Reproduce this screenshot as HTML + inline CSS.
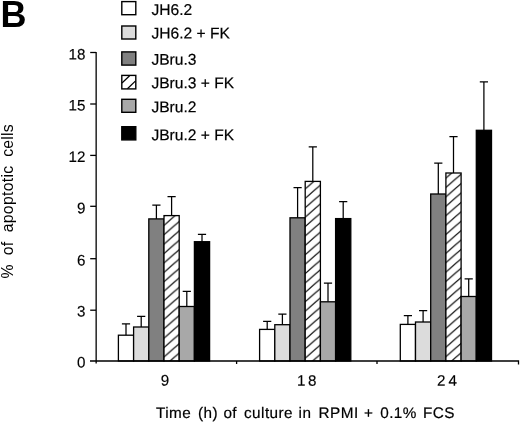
<!DOCTYPE html>
<html><head><meta charset="utf-8"><title>B</title>
<style>
html,body{margin:0;padding:0;background:#fff;}
body{width:520px;height:422px;overflow:hidden;}
svg{display:block;font-family:"Liberation Sans",Arial,Helvetica,sans-serif;fill:#000;}
</style></head><body>
<svg width="520" height="422" viewBox="0 0 520 422">
<defs>
<pattern id="hatch" patternUnits="userSpaceOnUse" width="10.805" height="9.4" patternTransform="translate(2.62,8.50)">
<rect width="10.805" height="9.4" fill="#fff"/>
<path d="M-10.805,18.8 L10.805,0 M0,18.8 L21.61,0 M-10.805,9.4 L10.805,-9.4" stroke="#000" stroke-width="1.2" fill="none"/>
</pattern>
<pattern id="hatch2" patternUnits="userSpaceOnUse" width="10.805" height="9.4" patternTransform="translate(3.36,0.30)">
<rect width="10.805" height="9.4" fill="#fff"/>
<path d="M-10.805,18.8 L10.805,0 M0,18.8 L21.61,0 M-10.805,9.4 L10.805,-9.4" stroke="#000" stroke-width="1.2" fill="none"/>
</pattern>
<pattern id="hatch3" patternUnits="userSpaceOnUse" width="10.805" height="9.4" patternTransform="translate(3.39,8.40)">
<rect width="10.805" height="9.4" fill="#fff"/>
<path d="M-10.805,18.8 L10.805,0 M0,18.8 L21.61,0 M-10.805,9.4 L10.805,-9.4" stroke="#000" stroke-width="1.2" fill="none"/>
</pattern>
</defs>
<rect width="520" height="422" fill="#fff"/>

<text x="0.4" y="27.4" font-size="36" font-weight="bold">B</text>
<rect x="121.8" y="1.6" width="14.0" height="13.1" fill="#ffffff" stroke="#000" stroke-width="1.4"/>
<text transform="translate(151.4,15.0) rotate(0.05) scale(1.0,1)" font-size="15.6" stroke="#000" stroke-width="0.2">JH6.2</text>
<rect x="121.8" y="26.0" width="14.0" height="13.0" fill="#dcdcdc" stroke="#000" stroke-width="1.4"/>
<text transform="translate(151.4,38.5) rotate(0.05) scale(1.0,1)" font-size="15.6" stroke="#000" stroke-width="0.2">JH6.2 + FK</text>
<rect x="121.8" y="51.9" width="14.0" height="13.2" fill="#808080" stroke="#000" stroke-width="1.4"/>
<text transform="translate(151.4,64.8) rotate(0.05) scale(1.0,1)" font-size="15.6" stroke="#000" stroke-width="0.2">JBru.3</text>
<rect x="121.8" y="75.4" width="14.0" height="13.5" fill="#fff"/>
<path d="M122.0,83.0 L129.6,75.8 M127.4,88.7 L135.6,80.9" stroke="#000" stroke-width="1.25" fill="none"/>
<rect x="121.8" y="75.4" width="14.0" height="13.5" fill="none" stroke="#000" stroke-width="1.4"/>
<text transform="translate(151.4,88.3) rotate(0.05) scale(1.0,1)" font-size="15.6" stroke="#000" stroke-width="0.2">JBru.3 + FK</text>
<rect x="121.8" y="99.3" width="14.0" height="13.0" fill="#a8a8a8" stroke="#000" stroke-width="1.4"/>
<text transform="translate(151.4,112.3) rotate(0.05) scale(1.0,1)" font-size="15.6" stroke="#000" stroke-width="0.2">JBru.2</text>
<rect x="121.8" y="126.7" width="14.0" height="13.2" fill="#000000" stroke="#000" stroke-width="1.4"/>
<text transform="translate(151.4,140.2) rotate(0.05) scale(1.0,1)" font-size="15.6" stroke="#000" stroke-width="0.2">JBru.2 + FK</text>
<path d="M126.0,335.2 V323.9 M121.9,323.9 H130.1" stroke="#000" stroke-width="1.25" fill="none"/>
<path d="M141.2,327.0 V316.4 M137.1,316.4 H145.3" stroke="#000" stroke-width="1.25" fill="none"/>
<path d="M156.4,218.9 V205.0 M152.3,205.0 H160.5" stroke="#000" stroke-width="1.25" fill="none"/>
<path d="M171.6,215.6 V196.5 M167.5,196.5 H175.7" stroke="#000" stroke-width="1.25" fill="none"/>
<path d="M186.8,306.5 V291.3 M182.7,291.3 H190.9" stroke="#000" stroke-width="1.25" fill="none"/>
<path d="M202.0,241.7 V234.4 M197.9,234.4 H206.1" stroke="#000" stroke-width="1.25" fill="none"/>
<rect x="118.4" y="335.2" width="15.2" height="25.8" fill="#ffffff" stroke="#000" stroke-width="1.3"/>
<rect x="133.6" y="327.0" width="15.2" height="34.0" fill="#dcdcdc" stroke="#000" stroke-width="1.3"/>
<rect x="148.8" y="218.9" width="15.2" height="142.1" fill="#808080" stroke="#000" stroke-width="1.3"/>
<rect x="164.0" y="215.6" width="15.2" height="145.4" fill="url(#hatch)" stroke="#000" stroke-width="1.3"/>
<rect x="179.2" y="306.5" width="15.2" height="54.5" fill="#a8a8a8" stroke="#000" stroke-width="1.3"/>
<rect x="194.4" y="241.7" width="15.2" height="119.3" fill="#000000" stroke="#000" stroke-width="1.3"/>
<path d="M267.2,329.4 V321.4 M263.1,321.4 H271.3" stroke="#000" stroke-width="1.25" fill="none"/>
<path d="M282.4,324.7 V314.2 M278.3,314.2 H286.5" stroke="#000" stroke-width="1.25" fill="none"/>
<path d="M297.6,217.8 V187.7 M293.5,187.7 H301.7" stroke="#000" stroke-width="1.25" fill="none"/>
<path d="M312.8,181.4 V146.8 M308.7,146.8 H316.9" stroke="#000" stroke-width="1.25" fill="none"/>
<path d="M328.0,301.8 V283.0 M323.9,283.0 H332.1" stroke="#000" stroke-width="1.25" fill="none"/>
<path d="M343.2,218.6 V201.5 M339.1,201.5 H347.3" stroke="#000" stroke-width="1.25" fill="none"/>
<rect x="259.6" y="329.4" width="15.2" height="31.6" fill="#ffffff" stroke="#000" stroke-width="1.3"/>
<rect x="274.8" y="324.7" width="15.2" height="36.3" fill="#dcdcdc" stroke="#000" stroke-width="1.3"/>
<rect x="290.0" y="217.8" width="15.2" height="143.2" fill="#808080" stroke="#000" stroke-width="1.3"/>
<rect x="305.2" y="181.4" width="15.2" height="179.6" fill="url(#hatch2)" stroke="#000" stroke-width="1.3"/>
<rect x="320.4" y="301.8" width="15.2" height="59.2" fill="#a8a8a8" stroke="#000" stroke-width="1.3"/>
<rect x="335.6" y="218.6" width="15.2" height="142.4" fill="#000000" stroke="#000" stroke-width="1.3"/>
<path d="M407.9,324.4 V315.6 M403.8,315.6 H412.0" stroke="#000" stroke-width="1.25" fill="none"/>
<path d="M423.1,322.0 V310.6 M419.0,310.6 H427.2" stroke="#000" stroke-width="1.25" fill="none"/>
<path d="M438.3,194.0 V163.2 M434.2,163.2 H442.4" stroke="#000" stroke-width="1.25" fill="none"/>
<path d="M453.5,173.0 V136.5 M449.4,136.5 H457.6" stroke="#000" stroke-width="1.25" fill="none"/>
<path d="M468.7,296.5 V278.8 M464.6,278.8 H472.8" stroke="#000" stroke-width="1.25" fill="none"/>
<path d="M483.9,130.3 V81.8 M479.8,81.8 H488.0" stroke="#000" stroke-width="1.25" fill="none"/>
<rect x="400.3" y="324.4" width="15.2" height="36.6" fill="#ffffff" stroke="#000" stroke-width="1.3"/>
<rect x="415.5" y="322.0" width="15.2" height="39.0" fill="#dcdcdc" stroke="#000" stroke-width="1.3"/>
<rect x="430.7" y="194.0" width="15.2" height="167.0" fill="#808080" stroke="#000" stroke-width="1.3"/>
<rect x="445.9" y="173.0" width="15.2" height="188.0" fill="url(#hatch3)" stroke="#000" stroke-width="1.3"/>
<rect x="461.1" y="296.5" width="15.2" height="64.5" fill="#a8a8a8" stroke="#000" stroke-width="1.3"/>
<rect x="476.3" y="130.3" width="15.2" height="230.7" fill="#000000" stroke="#000" stroke-width="1.3"/>
<path d="M96.15,51.9 V363.6 M90.0,361.0 H518.5 V364.6 M236.6,361.0 V364.0 M377,361.0 V364.0" stroke="#000" stroke-width="1.3" fill="none"/>
<path d="M90.2,310.2 H96.0" stroke="#000" stroke-width="1.3"/>
<path d="M90.2,258.7 H96.0" stroke="#000" stroke-width="1.3"/>
<path d="M90.2,206.3 H96.0" stroke="#000" stroke-width="1.3"/>
<path d="M90.2,155.4 H96.0" stroke="#000" stroke-width="1.3"/>
<path d="M90.2,104.0 H96.0" stroke="#000" stroke-width="1.3"/>
<path d="M90.2,52.5 H96.0" stroke="#000" stroke-width="1.3"/>
<text transform="translate(85.4,367.5) rotate(0.05)" font-size="15.2" text-anchor="end" stroke="#000" stroke-width="0.15">0</text>
<text transform="translate(85.4,316.6) rotate(0.05)" font-size="15.2" text-anchor="end" stroke="#000" stroke-width="0.15">3</text>
<text transform="translate(85.4,265.6) rotate(0.05)" font-size="15.2" text-anchor="end" stroke="#000" stroke-width="0.15">6</text>
<text transform="translate(85.4,213.3) rotate(0.05)" font-size="15.2" text-anchor="end" stroke="#000" stroke-width="0.15">9</text>
<text transform="translate(85.4,162.1) rotate(0.05)" font-size="15.2" text-anchor="end" stroke="#000" stroke-width="0.15">12</text>
<text transform="translate(85.4,110.6) rotate(0.05)" font-size="15.2" text-anchor="end" stroke="#000" stroke-width="0.15">15</text>
<text transform="translate(85.4,59.4) rotate(0.05)" font-size="15.2" text-anchor="end" stroke="#000" stroke-width="0.15">18</text>
<text transform="translate(165.0,385.4) rotate(0.05)" font-size="15.2" text-anchor="middle" stroke="#000" stroke-width="0.15">9</text>
<text transform="translate(0,385.4) rotate(0.05)" x="296.9 308" font-size="15.2" stroke="#000" stroke-width="0.15">18</text>
<text transform="translate(0,385.4) rotate(0.05)" x="436.9 448.6" font-size="15.2" stroke="#000" stroke-width="0.15">24</text>
<text transform="translate(156.0,418) rotate(0.05)" font-size="15.3" letter-spacing="0.45" stroke="#000" stroke-width="0.2">Time</text>
<text transform="translate(198.0,418) rotate(0.05)" font-size="15.3" letter-spacing="0.45" stroke="#000" stroke-width="0.2">(h)</text>
<text transform="translate(223.4,418) rotate(0.05)" font-size="15.3" letter-spacing="0.45" stroke="#000" stroke-width="0.2">of</text>
<text transform="translate(244.0,418) rotate(0.05)" font-size="15.3" letter-spacing="0.45" stroke="#000" stroke-width="0.2">culture</text>
<text transform="translate(298.6,418) rotate(0.05)" font-size="15.3" letter-spacing="0.45" stroke="#000" stroke-width="0.2">in</text>
<text transform="translate(318.6,418) rotate(0.05)" font-size="15.3" letter-spacing="0.45" stroke="#000" stroke-width="0.2">RPMI</text>
<text transform="translate(364.0,418) rotate(0.05)" font-size="15.3" letter-spacing="0.45" stroke="#000" stroke-width="0.2">+</text>
<text transform="translate(380.2,418) rotate(0.05)" font-size="15.3" letter-spacing="0.45" stroke="#000" stroke-width="0.2">0.1%</text>
<text transform="translate(423.0,418) rotate(0.05)" font-size="15.3" letter-spacing="0.45" stroke="#000" stroke-width="0.2">FCS</text>
<text transform="translate(12.9,278.5) rotate(-90)" font-size="15.8" letter-spacing="0.1">%</text>
<text transform="translate(12.9,255.2) rotate(-90)" font-size="15.8" letter-spacing="0.1">of</text>
<text transform="translate(12.9,232.3) rotate(-90)" font-size="15.8" letter-spacing="0.3">apoptotic</text>
<text transform="translate(12.9,156.8) rotate(-90)" font-size="15.8" letter-spacing="0.2">cells</text>
</svg></body></html>
